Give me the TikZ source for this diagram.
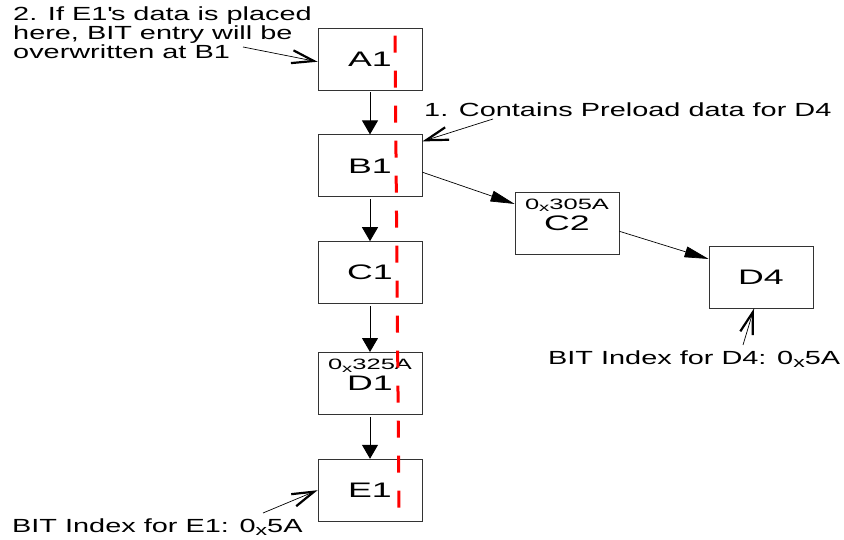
\documentclass[tikz,border=0pt]{standalone}
\usepackage{fontspec}
\usepackage{graphicx}
\setmainfont{Liberation Sans}[FakeStretch=1.52]
\newfontfamily\boxfont{Liberation Sans}[FakeStretch=1.7]
\newcommand{\hx}{\raisebox{-0.3ex}{\scalebox{0.8}{x}}}
\usepackage{tikz}
\usetikzlibrary{arrows.meta,positioning,calc}
\definecolor{edge}{HTML}{333333}
\definecolor{cutred}{HTML}{FF0000}

\begin{document}
\begin{tikzpicture}[
    x=1pt, y=-1pt,
    node distance=44pt,
    blk/.style={draw=edge, line width=0.8pt, minimum width=104pt, minimum height=62pt, inner sep=0pt, font=\boxfont\fontsize{21}{21}\selectfont},
    hex/.style={inner sep=0pt, font=\boxfont\fontsize{15}{15}\selectfont},
    note/.style={inner sep=0pt, align=left, font=\fontsize{19}{19}\selectfont},
    flow/.style={-{Triangle[length=14pt,width=16pt]}, line width=1pt, shorten <=2pt},
    link/.style={-{Triangle[length=24pt,width=11pt]}, line width=0.7pt},
    pointer/.style={-{Straight Barb[length=22pt,width=13pt,line width=2.2pt]}, line width=0.7pt}
]
\useasboundingbox (0,0) rectangle (844,540);
\node[blk] (A1) at (370,59) {A1};
\node[blk, below=of A1] (B1) {B1};
\node[blk, below=of B1] (C1) {C1};
\node[blk, below=48pt of C1] (D1) {D1};
\node[blk, below=of D1] (E1) {E1};
\node[blk] (C2) at (567,223) {C2};
\node[blk] (D4) at (761,277) {D4};
\node[hex, below=7pt of C2.north] (C2hex) {0\hx305A};
\node[hex, below=7pt of D1.north] (D1hex) {0\hx325A};
\node[note, anchor=north west] (note2) at (13,7) {2. If E1\textquotesingle s data is placed\\here, BIT entry will be\\overwritten at B1};
\node[note, anchor=base west] (note1) at (424,117) {1. Contains Preload data for D4};
\node[note, anchor=base west] (noteD4) at (548,364) {BIT Index for D4: 0\hx5A};
\node[note, anchor=base west] (noteE1) at (12,532) {BIT Index for E1: 0\hx5A};
\coordinate (tail2) at (243,47);
\coordinate (tail1) at (493,119);
\coordinate (tailD4) at (743,345);
\coordinate (tailE1) at (263,513);
\draw[flow] (A1) -- (B1);
\draw[flow] (B1) -- (C1);
\draw[flow] (C1) -- (D1);
\draw[flow] (D1) -- (E1);
\draw[link] (B1.-7) -- (C2.160);
\draw[link] (C2.-9) -- (D4.161);
\draw[pointer] (tail2) -- (A1.183);
\draw[pointer] (tail1) -- ([yshift=-7pt]B1.north east);
\draw[pointer] (tailD4) -- ([xshift=-7pt]D4.south);
\draw[pointer] (tailE1) -- (E1.west);
\draw[cutred, line width=3pt, dash pattern=on 17pt off 18pt] ($(A1.north)+(25,8)$) -- ($(E1.south)+(29,-11)$);
\end{tikzpicture}
\end{document}
